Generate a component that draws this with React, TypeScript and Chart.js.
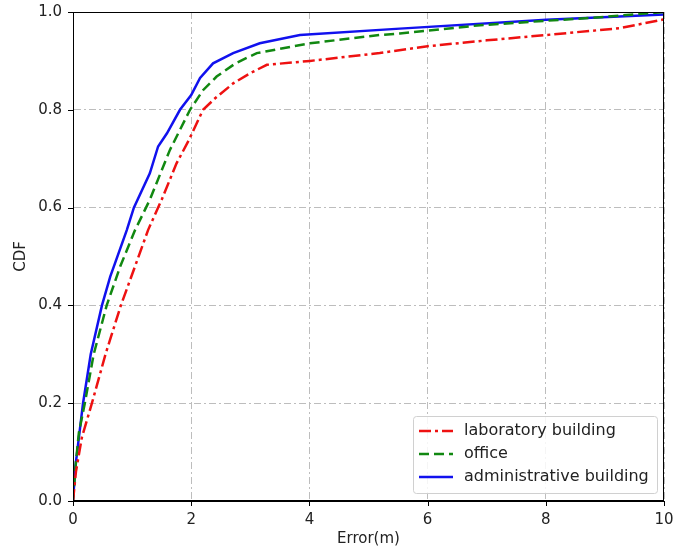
import React, { useEffect, useRef } from "react";
import { Chart, registerables } from "chart.js";

Chart.register(...registerables);

const labX = [0, 0.05, 0.15, 0.32, 0.55, 0.81, 1.05, 1.27, 1.5, 1.75, 1.96, 2.2, 2.4, 2.71, 3.0, 3.28, 4.01, 5.19, 6.0, 7.0, 8.01, 9.26, 10];
const labY = [0, 0.06, 0.13, 0.2, 0.3, 0.4, 0.48, 0.554, 0.616, 0.69, 0.738, 0.8, 0.823, 0.854, 0.875, 0.892, 0.9, 0.916, 0.93, 0.942, 0.953, 0.967, 0.985];

const officeX = [0, 0.05, 0.1, 0.2, 0.35, 0.57, 0.8, 1.05, 1.3, 1.64, 1.98, 2.2, 2.43, 2.75, 3.11, 4.01, 5.19, 5.53, 6.89, 8.0, 9.0, 10];
const officeY = [0, 0.08, 0.14, 0.2, 0.3, 0.4, 0.48, 0.554, 0.616, 0.718, 0.8, 0.84, 0.868, 0.895, 0.916, 0.936, 0.953, 0.956, 0.973, 0.982, 0.99, 1.0];

const adminX = [0, 0.04, 0.1, 0.17, 0.3, 0.49, 0.63, 0.71, 0.91, 1.03, 1.3, 1.44, 1.59, 1.81, 2.0, 2.15, 2.37, 2.71, 3.16, 3.84, 5.53, 8.01, 10];
const adminY = [0, 0.07, 0.13, 0.2, 0.3, 0.4, 0.459, 0.486, 0.554, 0.6, 0.67, 0.725, 0.752, 0.8, 0.83, 0.865, 0.895, 0.916, 0.936, 0.953, 0.966, 0.984, 0.995];

const seriesLabels = ["laboratory building", "office", "administrative building"];
const xTicks = [0, 2, 4, 6, 8, 10];
const yTicks = [0, 0.2, 0.4, 0.6, 0.8, 1.0];

const FONT = "'DejaVu Sans', sans-serif";

const toPoints = (xs: number[], ys: number[]) => xs.map((x, i) => ({ x, y: ys[i] }));

const framePlugin = {
  id: "frame",
  afterDatasetsDraw(chart: any) {
    const { ctx, chartArea: a } = chart;
    ctx.save();
    ctx.strokeStyle = "#000";
    ctx.lineWidth = 1;
    ctx.setLineDash([]);
    ctx.strokeRect(a.left + 0.5, a.top + 0.5, a.right - a.left - 1, a.bottom - a.top - 1);
    const xs = chart.scales.x;
    const ys = chart.scales.y;
    ctx.beginPath();
    xs.ticks.forEach((t: any) => {
      const px = Math.round(xs.getPixelForValue(t.value)) + 0.5;
      ctx.moveTo(px, a.bottom);
      ctx.lineTo(px, a.bottom + 5);
    });
    ys.ticks.forEach((t: any) => {
      const py = Math.round(ys.getPixelForValue(t.value)) + 0.5;
      ctx.moveTo(a.left - 5, py);
      ctx.lineTo(a.left, py);
    });
    ctx.stroke();
    ctx.restore();
  },
};

const legendPlugin = {
  id: "innerLegend",
  afterDraw(chart: any) {
    const { ctx, chartArea: a } = chart;
    const w = 244;
    const h = 77;
    const x0 = a.right - 7 - w;
    const y0 = a.bottom - 8 - h;
    ctx.save();
    ctx.globalAlpha = 0.85;
    ctx.fillStyle = "#fff";
    ctx.beginPath();
    (ctx as any).roundRect(x0 + 0.5, y0 + 0.5, w, h, 3);
    ctx.fill();
    ctx.globalAlpha = 1;
    ctx.strokeStyle = "#d0d0d0";
    ctx.lineWidth = 1;
    ctx.stroke();
    ctx.font = `16px ${FONT}`;
    ctx.textBaseline = "middle";
    chart.data.datasets.forEach((ds: any, i: number) => {
      const cy = y0 + 15 + i * 23;
      ctx.strokeStyle = ds.borderColor;
      ctx.lineWidth = ds.borderWidth;
      ctx.setLineDash(ds.borderDash || []);
      ctx.beginPath();
      ctx.moveTo(x0 + 6, cy);
      ctx.lineTo(x0 + 40, cy);
      ctx.stroke();
      ctx.setLineDash([]);
      ctx.fillStyle = "#222";
      ctx.fillText(ds.label, x0 + 51, cy);
    });
    ctx.restore();
  },
};

export default function App() {
  const ref = useRef<HTMLCanvasElement | null>(null);

  useEffect(() => {
    if (!ref.current) return;
    const gridDash = [7, 3, 2, 3];
    const chart = new Chart(ref.current, {
      type: "line",
      data: {
        datasets: [
          {
            label: seriesLabels[0],
            data: toPoints(labX, labY),
            borderColor: "#ee1111",
            borderWidth: 2.5,
            borderDash: [12, 4, 3, 4],
            pointRadius: 0,
            tension: 0,
            fill: false,
          },
          {
            label: seriesLabels[1],
            data: toPoints(officeX, officeY),
            borderColor: "#118811",
            borderWidth: 2.5,
            borderDash: [10, 5],
            pointRadius: 0,
            tension: 0,
            fill: false,
          },
          {
            label: seriesLabels[2],
            data: toPoints(adminX, adminY),
            borderColor: "#1111ee",
            borderWidth: 2.5,
            pointRadius: 0,
            tension: 0,
            fill: false,
          },
        ],
      },
      options: {
        animation: false,
        responsive: false,
        maintainAspectRatio: false,
        layout: { padding: { left: 0, right: 25, top: 12, bottom: 0 } },
        plugins: { legend: { display: false }, tooltip: { enabled: false } },
        scales: {
          x: {
            type: "linear",
            min: 0,
            max: 10,
            afterBuildTicks: (s: any) => {
              s.ticks = xTicks.map((v) => ({ value: v }));
            },
            afterFit: (s: any) => {
              s.height = 53;
              s.paddingLeft = 0;
              s.paddingRight = 0;
            },
            ticks: {
              color: "#222",
              font: { family: FONT, size: 15 },
              padding: 10,
              maxRotation: 0,
              callback: (v: any) => String(v),
            },
            grid: {
              color: "#bdbdbd",
              lineWidth: 1,
              drawTicks: false,
            },
            border: { display: true, color: "#000", width: 1, dash: gridDash },
            title: {
              display: true,
              text: "Error(m)",
              color: "#222",
              font: { family: FONT, size: 15 },
              padding: { top: 2, bottom: 6 },
            },
          },
          y: {
            type: "linear",
            min: 0,
            max: 1,
            afterBuildTicks: (s: any) => {
              s.ticks = yTicks.map((v) => ({ value: v }));
            },
            afterFit: (s: any) => {
              s.width = 73;
              s.paddingTop = 0;
              s.paddingBottom = 0;
            },
            ticks: {
              color: "#222",
              font: { family: FONT, size: 15 },
              padding: 11,
              callback: (v: any) => Number(v).toFixed(1),
            },
            grid: {
              color: "#bdbdbd",
              lineWidth: 1,
              drawTicks: false,
            },
            border: { display: true, color: "#000", width: 1, dash: gridDash },
            title: {
              display: true,
              text: "CDF",
              color: "#222",
              font: { family: FONT, size: 15 },
              padding: { top: 12, bottom: 0 },
            },
          },
        },
      },
      plugins: [framePlugin, legendPlugin],
    });
    return () => chart.destroy();
  }, []);

  return (
    <div style={{ position: "fixed", left: 0, top: 0, width: 689, height: 554, background: "#fff" }}>
      <canvas ref={ref} width={689} height={554} style={{ display: "block", width: 689, height: 554 }} />
    </div>
  );
}
